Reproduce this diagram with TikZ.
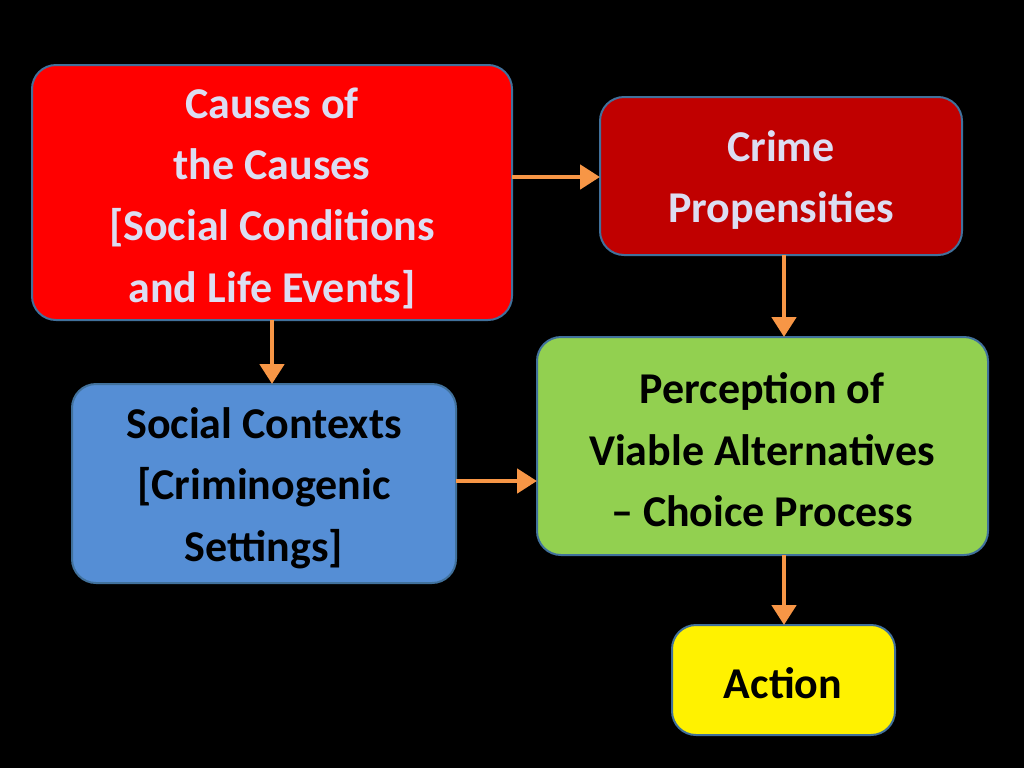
\documentclass[tikz,border=0pt]{standalone}
\usepackage{fontspec}
\setmainfont{Carlito}
\usetikzlibrary{arrows.meta}
\definecolor{bord}{HTML}{41719C}
\definecolor{lav}{HTML}{DCDDF2}
\definecolor{dred}{HTML}{C00000}
\definecolor{bl}{HTML}{558ED5}
\definecolor{gr}{HTML}{92D050}
\definecolor{org}{HTML}{F79646}
\begin{document}
\begin{tikzpicture}[x=0.75pt,y=-0.75pt,
 box/.style={draw=bord,line width=1.5pt,rounded corners=18pt,inner sep=0pt},
 txt/.style={font=\bfseries\fontsize{33}{46}\selectfont,align=center},
 arr/.style={draw=org,line width=3.6pt,-{Triangle[length=15pt,width=18pt]}}]
\fill[black] (0,0) rectangle (1024,768);
\useasboundingbox (0,0) rectangle (1024,768);
\draw[box,fill=red] (32,65) rectangle (512,320);
\node[txt,text=lav] (a) at (272,198) {Causes of\\the Causes\\{[}Social Conditions\\and Life Events{]}};
\draw[box,fill=dred] (600,97) rectangle (962,255);
\node[txt,text=lav] (b) at (781,180) {Crime\\Propensities};
\draw[box,fill=bl] (72,384) rectangle (456,583);
\node[txt,text=black] (c) at (264,488) {Social Contexts\\{[}Criminogenic\\Settings{]}};
\draw[box,fill=gr] (537,337) rectangle (988,555);
\node[txt,text=black] (d) at (762,450) {Perception of\\Viable Alternatives\\– Choice Process};
\draw[box,fill=yellow] (672,625) rectangle (895,735);
\node[txt,text=black] (e) at (783,683) {Action};
\coordinate (a1) at (512,177); \coordinate (b1) at (600,177);
\coordinate (a2) at (272,320); \coordinate (c1) at (272,384);
\coordinate (b2) at (784,255); \coordinate (d1) at (784,337);
\coordinate (c2) at (456,481); \coordinate (d2) at (537,481);
\coordinate (d3) at (784,555); \coordinate (e1) at (784,625);
\draw[arr] (a1) -- (b1);
\draw[arr] (a2) -- (c1);
\draw[arr] (b2) -- (d1);
\draw[arr] (c2) -- (d2);
\draw[arr] (d3) -- (e1);
\end{tikzpicture}
\end{document}
